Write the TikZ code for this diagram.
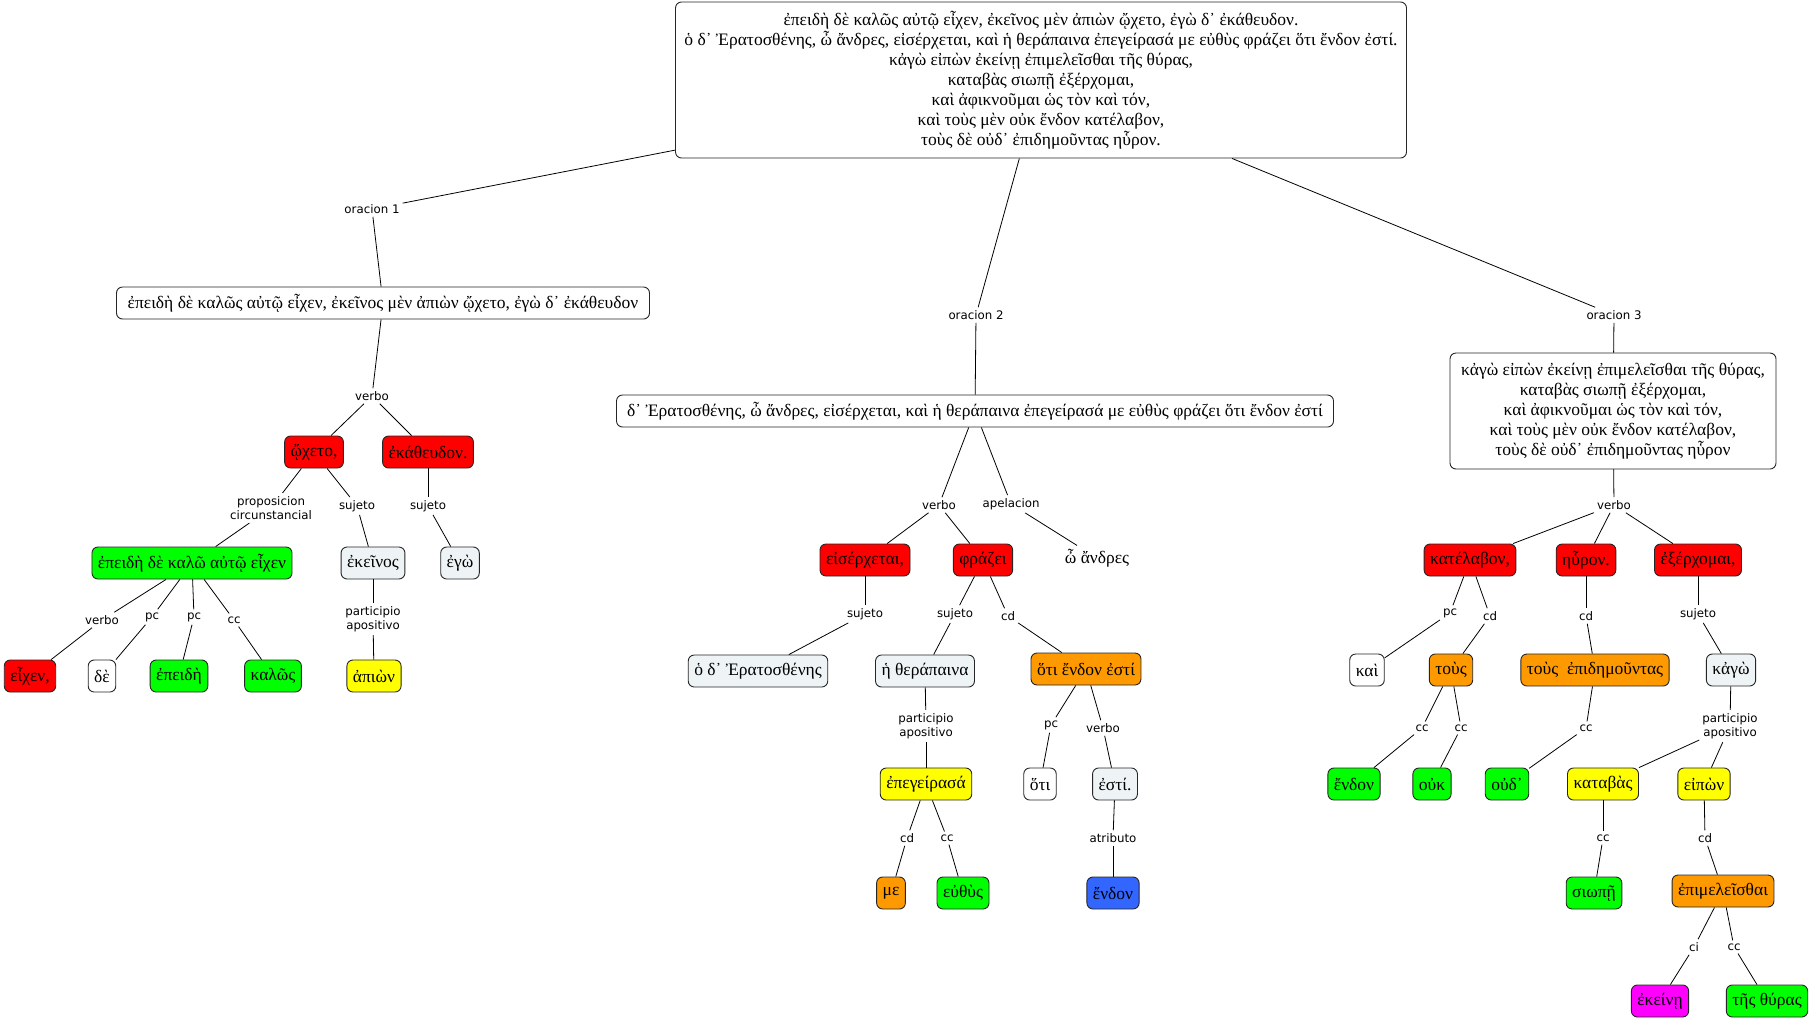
\documentclass[tikz,border=0pt]{standalone}
\usepackage{fontspec}
\setmainfont{Liberation Serif}
\newfontfamily\lblfont{DejaVu Sans}
\definecolor{cred}{RGB}{255,0,0}
\definecolor{cgreen}{RGB}{0,255,0}
\definecolor{cyellow}{RGB}{255,255,0}
\definecolor{corange}{RGB}{255,153,0}
\definecolor{cblue}{RGB}{51,102,255}
\definecolor{cmag}{RGB}{255,0,255}
\definecolor{cgray}{RGB}{238,243,245}
\begin{document}
\begin{tikzpicture}[x=1pt,y=-1pt,
  box/.style={draw=black!85, rounded corners=6pt, line width=0.9pt, inner xsep=6pt, inner ysep=3pt,
    minimum height=32pt, font=\fontsize{17.5}{20}\selectfont, align=center},
  rbox/.style={box, fill=cred},
  gbox/.style={box, fill=cgreen},
  ybox/.style={box, fill=cyellow},
  obox/.style={box, fill=corange},
  bbox/.style={box, fill=cblue},
  mbox/.style={box, fill=cmag},
  lbox/.style={box, fill=cgray},
  wbox/.style={box, fill=white},
  lbl/.style={font=\lblfont\fontsize{11.8}{14.5}\selectfont, inner sep=3pt, align=center},
  edge/.style={line width=0.8pt}]
\useasboundingbox (0,0) rectangle (1811,1021);

% ---- top
\node[wbox, minimum width=731pt, minimum height=156pt] (top) at (1041,80) {%
ἐπειδὴ δὲ καλῶς αὐτῷ εἶχεν, ἐκεῖνος μὲν ἀπιὼν ᾤχετο, ἐγὼ δ᾿ ἐκάθευδον.\\
ὁ δ᾿ Ἐρατοσθένης, ὦ ἄνδρες, εἰσέρχεται, καὶ ἡ θεράπαινα ἐπεγείρασά με εὐθὺς φράζει ὅτι ἔνδον ἐστί.\\
κἀγὼ εἰπὼν ἐκείνῃ ἐπιμελεῖσθαι τῆς θύρας,\\
καταβὰς σιωπῇ ἐξέρχομαι,\\
καὶ ἀφικνοῦμαι ὡς τὸν καὶ τόν,\\
καὶ τοὺς μὲν οὐκ ἔνδον κατέλαβον,\\
τοὺς δὲ οὐδ᾿ ἐπιδημοῦντας ηὗρον.};

\node[lbl] (o1) at (372,209) {oracion 1};
\node[lbl] (o2) at (976,315) {oracion 2};
\node[lbl] (o3) at (1614,315) {oracion 3};

\node[wbox, minimum width=533pt] (A) at (383,303) {ἐπειδὴ δὲ καλῶς αὐτῷ εἶχεν, ἐκεῖνος μὲν ἀπιὼν ᾤχετο, ἐγὼ δ᾿ ἐκάθευδον};
\node[wbox, minimum width=717pt] (B) at (975,411) {δ᾿ Ἐρατοσθένης, ὦ ἄνδρες, εἰσέρχεται, καὶ ἡ θεράπαινα ἐπεγείρασά με εὐθὺς φράζει ὅτι ἔνδον ἐστί};
\node[wbox, minimum width=326pt, minimum height=116pt] (C) at (1613,411) {%
κἀγὼ εἰπὼν ἐκείνῃ ἐπιμελεῖσθαι τῆς θύρας,\\
καταβὰς σιωπῇ ἐξέρχομαι,\\
καὶ ἀφικνοῦμαι ὡς τὸν καὶ τόν,\\
καὶ τοὺς μὲν οὐκ ἔνδον κατέλαβον,\\
τοὺς δὲ οὐδ᾿ ἐπιδημοῦντας ηὗρον};

\draw[edge] (top) -- (o1); \draw[edge] (o1) -- (A);
\draw[edge] (top) -- (o2); \draw[edge] (o2) -- (B);
\draw[edge] (top) -- (o3); \draw[edge] (o3) -- (C);

% ---- left subtree
\node[lbl] (lv1) at (372,396) {verbo};
\node[rbox] (wxeto) at (314,452) {ᾤχετο,};
\node[rbox] (ekath) at (428,452) {ἐκάθευδον.};
\node[lbl] (lprop) at (271,508) {proposicion\\circunstancial};
\node[lbl] (ls1) at (357,506) {sujeto};
\node[lbl] (ls2) at (428,506) {sujeto};
\node[gbox] (g1) at (192,563) {ἐπειδὴ δὲ καλῶ αὐτῷ εἶχεν};
\node[lbox] (ekeinos) at (373,563) {ἐκεῖνος};
\node[lbox] (egw) at (460,563) {ἐγὼ};
\node[lbl] (lv2) at (102,620) {verbo};
\node[lbl] (lp1) at (152,617) {pc};
\node[lbl] (lp2) at (194,617) {pc};
\node[lbl] (lc1) at (234,620) {cc};
\node[lbl] (lpa1) at (373,619) {participio\\apositivo};
\node[rbox] (eixen) at (30,676) {εἶχεν,};
\node[wbox] (de) at (102,676) {δὲ};
\node[gbox] (epeidh) at (179,676) {ἐπειδὴ};
\node[gbox] (kalws) at (273,676) {καλῶς};
\node[ybox] (apiwn) at (374,676) {ἀπιὼν};

\draw[edge] (A) -- (lv1);
\draw[edge] (lv1) -- (wxeto); \draw[edge] (lv1) -- (ekath);
\draw[edge] (wxeto) -- (lprop); \draw[edge] (lprop) -- (g1);
\draw[edge] (wxeto) -- (ls1); \draw[edge] (ls1) -- (ekeinos);
\draw[edge] (ekath) -- (ls2); \draw[edge] (ls2) -- (egw);
\draw[edge] (g1) -- (lv2); \draw[edge] (lv2) -- (eixen);
\draw[edge] (g1) -- (lp1); \draw[edge] (lp1) -- (de);
\draw[edge] (g1) -- (lp2); \draw[edge] (lp2) -- (epeidh);
\draw[edge] (g1) -- (lc1); \draw[edge] (lc1) -- (kalws);
\draw[edge] (ekeinos) -- (lpa1); \draw[edge] (lpa1) -- (apiwn);

% ---- middle subtree
\node[lbl] (lv3) at (939,505) {verbo};
\node[lbl] (lap) at (1011,504) {apelacion};
\node[rbox] (eiserx) at (865,560) {εἰσέρχεται,};
\node[rbox] (frazei) at (983,560) {φράζει};
\node[font=\fontsize{17.5}{20}\selectfont] (andres) at (1097,558) {ὦ ἄνδρες};
\node[lbl] (ls3) at (865,614) {sujeto};
\node[lbl] (ls4) at (955,614) {sujeto};
\node[lbl] (lcd1) at (1008,616) {cd};
\node[lbox] (erat) at (758,671) {ὁ δ᾿ Ἐρατοσθένης};
\node[lbox] (therap) at (925,671) {ἡ θεράπαινα};
\node[obox] (oti1) at (1086,669) {ὅτι ἔνδον ἐστί};
\node[lbl] (lpa2) at (926,726) {participio\\apositivo};
\node[lbl] (lp3) at (1051,725) {pc};
\node[lbl] (lv4) at (1103,728) {verbo};
\node[ybox] (epeg) at (926,784) {ἐπεγείρασά};
\node[wbox] (oti) at (1040,784) {ὅτι};
\node[lbox] (esti) at (1115,784) {ἐστί.};
\node[lbl] (lcd2) at (907,838) {cd};
\node[lbl] (lcc2) at (947,838) {cc};
\node[lbl] (latr) at (1113,838) {atributo};
\node[obox] (me) at (891,893) {με};
\node[gbox] (euthus) at (963,893) {εὐθὺς};
\node[bbox] (endon1) at (1113,893) {ἔνδον};

\draw[edge] (B) -- (lv3); \draw[edge] (B) -- (lap);
\draw[edge] (lv3) -- (eiserx); \draw[edge] (lv3) -- (frazei);
\draw[edge] (lap) -- (andres);
\draw[edge] (eiserx) -- (ls3); \draw[edge] (ls3) -- (erat);
\draw[edge] (frazei) -- (ls4); \draw[edge] (ls4) -- (therap);
\draw[edge] (frazei) -- (lcd1); \draw[edge] (lcd1) -- (oti1);
\draw[edge] (therap) -- (lpa2); \draw[edge] (lpa2) -- (epeg);
\draw[edge] (oti1) -- (lp3); \draw[edge] (lp3) -- (oti);
\draw[edge] (oti1) -- (lv4); \draw[edge] (lv4) -- (esti);
\draw[edge] (epeg) -- (lcd2); \draw[edge] (lcd2) -- (me);
\draw[edge] (epeg) -- (lcc2); \draw[edge] (lcc2) -- (euthus);
\draw[edge] (esti) -- (latr); \draw[edge] (latr) -- (endon1);

% ---- right subtree
\node[lbl] (lv5) at (1614,505) {verbo};
\node[rbox] (katel) at (1470,560) {κατέλαβον,};
\node[rbox] (hyron) at (1586,560) {ηὗρον.};
\node[rbox] (exerx) at (1698,560) {ἐξέρχομαι,};
\node[lbl] (lp4) at (1450,613) {pc};
\node[lbl] (lcd3) at (1490,616) {cd};
\node[lbl] (lcd4) at (1586,616) {cd};
\node[lbl] (ls5) at (1698,614) {sujeto};
\node[wbox] (kai) at (1367,670) {καὶ};
\node[obox] (tous) at (1451,670) {τοὺς};
\node[obox] (tousep) at (1595,670) {τοὺς\enspace ἐπιδημοῦντας};
\node[lbox] (kagw) at (1731,670) {κἀγὼ};
\node[lbl] (lcc3) at (1422,728) {cc};
\node[lbl] (lcc4) at (1461,728) {cc};
\node[lbl] (lcc5) at (1586,728) {cc};
\node[lbl] (lpa3) at (1730,726) {participio\\apositivo};
\node[gbox] (endon2) at (1354,784) {ἔνδον};
\node[gbox] (ouk) at (1432,784) {οὐκ};
\node[gbox] (oud) at (1507,784) {οὐδ᾿};
\node[ybox] (katab) at (1603,784) {καταβὰς};
\node[ybox] (eipwn) at (1704,784) {εἰπὼν};
\node[lbl] (lcc6) at (1603,838) {cc};
\node[lbl] (lcd5) at (1705,838) {cd};
\node[gbox] (siwph) at (1594,893) {σιωπῇ};
\node[obox] (epim) at (1723,891) {ἐπιμελεῖσθαι};
\node[lbl] (lci) at (1694,947) {ci};
\node[lbl] (lcc7) at (1734,947) {cc};
\node[mbox] (ekeinh) at (1660,1001) {ἐκείνῃ};
\node[gbox] (thyras) at (1767,1001) {τῆς θύρας};

\draw[edge] (C) -- (lv5);
\draw[edge] (lv5) -- (katel); \draw[edge] (lv5) -- (hyron); \draw[edge] (lv5) -- (exerx);
\draw[edge] (katel) -- (lp4); \draw[edge] (lp4) -- (kai);
\draw[edge] (katel) -- (lcd3); \draw[edge] (lcd3) -- (tous);
\draw[edge] (hyron) -- (lcd4); \draw[edge] (lcd4) -- (tousep);
\draw[edge] (exerx) -- (ls5); \draw[edge] (ls5) -- (kagw);
\draw[edge] (tous) -- (lcc3); \draw[edge] (lcc3) -- (endon2);
\draw[edge] (tous) -- (lcc4); \draw[edge] (lcc4) -- (ouk);
\draw[edge] (tousep) -- (lcc5); \draw[edge] (lcc5) -- (oud);
\draw[edge] (kagw) -- (lpa3); \draw[edge] (lpa3) -- (katab); \draw[edge] (lpa3) -- (eipwn);
\draw[edge] (katab) -- (lcc6); \draw[edge] (lcc6) -- (siwph);
\draw[edge] (eipwn) -- (lcd5); \draw[edge] (lcd5) -- (epim);
\draw[edge] (epim) -- (lci); \draw[edge] (lci) -- (ekeinh);
\draw[edge] (epim) -- (lcc7); \draw[edge] (lcc7) -- (thyras);
\end{tikzpicture}
\end{document}
